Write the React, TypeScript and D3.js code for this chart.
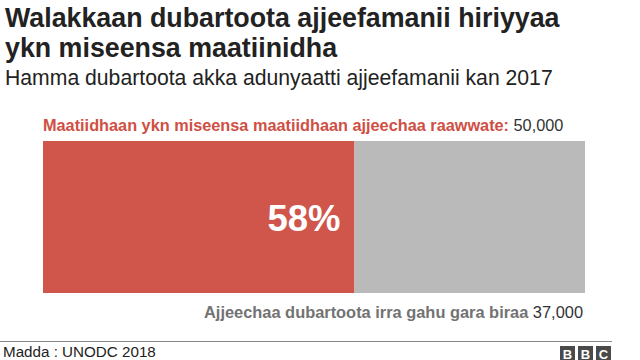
"use client"

import type React from "react"
import { useEffect, useRef } from "react"
import * as d3 from "d3"

const titleLines = ["Walakkaan dubartoota ajjeefamanii hiriyyaa", "ykn miseensa maatiinidha"]
const subtitle = "Hamma dubartoota akka adunyaatti ajjeefamanii kan 2017"
const categories = ["Maatiidhaan ykn miseensa maatiidhaan ajjeechaa raawwate:", "Ajjeechaa dubartoota irra gahu gara biraa"]
const values = [50000, 37000]
const valueLabels = ["50,000", "37,000"]
const shareLabel = "58%"
const source = "Madda : UNODC 2018"

const colors = ["#d0564b", "#bababa"]
const font = "'Liberation Sans', Arial, Helvetica, sans-serif"

const App: React.FC = () => {
  const svgRef = useRef<SVGSVGElement | null>(null)

  useEffect(() => {
    const width = 640
    const height = 360
    const svg = d3.select(svgRef.current).attr("width", width).attr("height", height)
    svg.selectAll("*").remove()

    // Title + subtitle
    svg.append("g")
      .selectAll("text")
      .data(titleLines)
      .enter()
      .append("text")
      .attr("x", 5)
      .attr("y", (_d, i) => 27 + i * 30)
      .attr("font-family", font)
      .attr("font-size", 26.8)
      .attr("font-weight", "bold")
      .attr("fill", "#222")
      .text((d) => d)

    svg.append("text")
      .attr("x", 5)
      .attr("y", 85)
      .attr("font-family", font)
      .attr("font-size", 21.2)
      .attr("fill", "#222")
      .text(subtitle)

    const x = d3
      .scaleLinear()
      .domain([0, d3.sum(values)])
      .range([43, 585])

    const barTop = 141
    const barHeight = 152
    const stacked = values.map((v, i) => ({ start: d3.sum(values.slice(0, i)), value: v, color: colors[i] }))

    // Bars
    svg.selectAll(".seg")
      .data(stacked)
      .enter()
      .append("rect")
      .attr("class", "seg")
      .attr("x", (d) => x(d.start))
      .attr("y", barTop)
      .attr("width", (d) => x(d.start + d.value) - x(d.start))
      .attr("height", barHeight)
      .attr("fill", (d) => d.color)

    // Percentage inside red bar
    svg.append("text")
      .attr("x", x(values[0]) - 14)
      .attr("y", 231)
      .attr("text-anchor", "end")
      .attr("font-family", font)
      .attr("font-size", 36.5)
      .attr("font-weight", "bold")
      .attr("fill", "#fff")
      .text(shareLabel)

    // Top label (left)
    const top = svg.append("text")
      .attr("x", x(0))
      .attr("y", 131)
      .attr("font-family", font)
      .attr("font-size", 16.3)
    top.append("tspan").attr("font-weight", "bold").attr("fill", "#cf4f44").text(categories[0] + " ")
    top.append("tspan").attr("fill", "#333").text(valueLabels[0])

    // Bottom label (right)
    const bottom = svg.append("text")
      .attr("x", x(d3.sum(values)) - 2)
      .attr("y", 318)
      .attr("text-anchor", "end")
      .attr("font-family", font)
      .attr("font-size", 16.4)
    bottom.append("tspan").attr("font-weight", "bold").attr("fill", "#737373").text(categories[1] + " ")
    bottom.append("tspan").attr("fill", "#333").text(valueLabels[1])

    // Footer
    svg.append("line")
      .attr("x1", 0)
      .attr("x2", 612)
      .attr("y1", 341.5)
      .attr("y2", 341.5)
      .attr("stroke", "#888")
      .attr("stroke-width", 1)

    svg.append("text")
      .attr("x", 3)
      .attr("y", 357)
      .attr("font-family", font)
      .attr("font-size", 15.2)
      .attr("fill", "#222")
      .text(source)

    const logo = svg.append("g").attr("transform", "translate(560,346)")
    ;["B", "B", "C"].forEach((ch, i) => {
      logo.append("rect").attr("x", i * 18).attr("y", 0).attr("width", 15).attr("height", 15).attr("fill", "#4a4a4a")
      logo.append("text")
        .attr("x", i * 18 + 7.5)
        .attr("y", 12.5)
        .attr("text-anchor", "middle")
        .attr("font-family", font)
        .attr("font-size", 13)
        .attr("font-weight", "bold")
        .attr("fill", "#fff")
        .text(ch)
    })
  }, [])

  return <svg ref={svgRef} style={{ position: "absolute", left: 0, top: 0, background: "#fff" }}></svg>
}

export default App
